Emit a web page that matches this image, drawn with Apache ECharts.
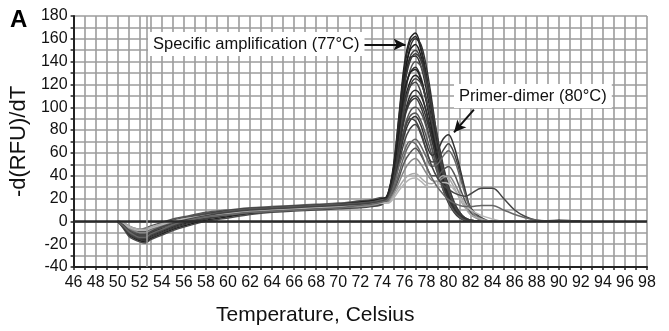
<!DOCTYPE html>
<html>
<head>
<meta charset="utf-8">
<script src="https://cdn.jsdelivr.net/npm/echarts@6/dist/echarts.min.js"></script>
<style>
  html, body { margin: 0; padding: 0; background: #fff; }
  #chart { width: 669px; height: 331px; }
</style>
</head>
<body>
<div id="chart"></div>
<script>
// melt curves, -d(RFU)/dT against temperature
const temps = [50, 50.5, 51, 51.5, 52, 52.5, 53, 54, 55, 56, 58, 60, 62, 64, 66, 68, 70, 72, 73, 74,
  74.5, 75, 75.5, 76, 76.5, 77, 77.5, 78, 78.5, 79, 79.5, 80, 80.5, 81, 81.5, 82,
  83, 84, 85, 86, 87, 88, 90, 92];

const xTicks = { min: 46, max: 98, step: 2 };
const yTicks = { min: -40, max: 180, step: 20 };

// specific product, tall peak at 77
const c01 = [0, -4, -10, -13, -15, -16, -13, -9, -5, -2, 3, 6, 8, 10, 11, 12, 13, 15, 16, 18,
  24, 48, 92, 138, 160, 165, 152, 128, 98, 66, 38, 20, 10, 4, 1, 0, 0, 0, 0, 0, 0, 0, 0, 0];
const c02 = [0, -2, -6, -8, -9, -9, -7, -3, 0, 3, 7, 9, 11, 12, 13, 14, 15, 17, 18, 20,
  22, 40, 80, 125, 152, 160, 155, 135, 105, 72, 45, 25, 13, 5, 2, 0, 0, 0, 0, 0, 0, 0, 0, 0];
const c03 = [0, -5, -12, -15, -17, -18, -15, -11, -7, -4, 1, 4, 7, 9, 10, 11, 12, 13, 14, 16,
  23, 44, 85, 128, 150, 155, 145, 122, 95, 65, 40, 22, 12, 5, 2, 1, 0, 0, 0, 0, 0, 0, 1, 0];
const c04 = [0, -3, -8, -11, -13, -13, -10, -6, -3, 0, 4, 7, 9, 10, 11, 12, 13, 15, 16, 18,
  22, 42, 80, 120, 144, 150, 142, 122, 96, 68, 44, 26, 14, 6, 3, 1, 0, 0, 0, 0, 0, 0, 0, 0];
const c05 = [0, -4, -11, -14, -16, -16, -12, -8, -4, -1, 3, 6, 8, 9, 10, 11, 12, 14, 15, 17,
  24, 45, 84, 124, 143, 145, 136, 115, 88, 60, 36, 19, 10, 4, 1, 0, 0, 0, 0, 0, 0, 0, 0, 0];
const c06 = [0, -1, -4, -6, -7, -6, -4, -1, 2, 4, 8, 10, 12, 13, 14, 15, 16, 18, 19, 21,
  20, 36, 70, 108, 132, 140, 136, 120, 98, 72, 48, 30, 17, 8, 3, 1, 0, 0, 0, 0, 0, 0, 0, 0];
const c07 = [0, -3, -9, -12, -14, -15, -12, -8, -4, -1, 3, 6, 8, 9, 10, 11, 12, 14, 15, 17,
  22, 40, 76, 112, 130, 135, 126, 106, 82, 57, 35, 20, 11, 5, 2, 0, 0, 0, 0, 0, 0, 0, 0, 0];
const c08 = [0, -2, -7, -10, -11, -11, -8, -4, -1, 2, 6, 8, 10, 11, 12, 13, 14, 16, 17, 19,
  21, 38, 70, 104, 122, 128, 122, 106, 84, 60, 40, 24, 13, 6, 2, 0, 0, 0, 0, 0, 0, 0, 0, 0];
const c09 = [0, -6, -13, -16, -18, -19, -16, -12, -8, -5, 0, 3, 6, 8, 9, 10, 11, 12, 13, 15,
  22, 40, 72, 102, 118, 122, 113, 95, 72, 50, 31, 18, 9, 4, 1, 0, 0, 0, 0, 0, 0, 0, 0, 0];
const c10 = [0, -3, -8, -10, -12, -12, -9, -5, -2, 1, 5, 8, 10, 11, 12, 13, 14, 16, 17, 19,
  20, 35, 62, 92, 110, 115, 110, 96, 76, 55, 36, 22, 12, 5, 2, 0, 0, 0, 0, 0, 0, 0, 0, 0];
const c11 = [0, -4, -10, -12, -14, -14, -11, -7, -3, 0, 4, 7, 9, 10, 11, 12, 13, 14, 15, 17,
  21, 36, 64, 90, 104, 108, 100, 84, 64, 45, 28, 16, 8, 3, 1, 0, 0, 0, 0, 0, 0, 0, 0, 0];
const c12 = [0, -2, -5, -7, -8, -8, -6, -2, 1, 3, 7, 9, 11, 12, 13, 14, 15, 16, 17, 19,
  20, 33, 58, 82, 96, 100, 95, 82, 64, 46, 30, 18, 10, 4, 2, 0, 0, 0, 0, 0, 0, 0, 0, 0];
const c22 = [0, -3, -9, -12, -14, -14, -11, -7, -3, 0, 4, 7, 9, 10, 11, 12, 13, 15, 16, 18,
  23, 46, 90, 134, 157, 162, 150, 126, 97, 66, 40, 22, 11, 5, 2, 0, 0, 0, 0, 0, 0, 0, 0, 0];
const c23 = [0, -5, -11, -14, -16, -17, -14, -10, -6, -3, 2, 5, 7, 9, 10, 11, 12, 14, 15, 17,
  21, 39, 76, 118, 140, 147, 141, 124, 100, 74, 50, 31, 17, 8, 3, 1, 0, 0, 0, 0, 0, 0, 0, 0];
const c24 = [0, -2, -7, -9, -11, -11, -8, -4, -1, 2, 6, 9, 11, 12, 13, 14, 15, 17, 18, 20,
  22, 42, 78, 114, 130, 133, 124, 104, 80, 56, 34, 19, 10, 4, 1, 0, 0, 0, 0, 0, 0, 0, 0, 0];
const c25 = [0, -4, -10, -13, -14, -15, -12, -8, -4, -1, 3, 6, 8, 9, 10, 11, 12, 14, 15, 17,
  20, 36, 66, 98, 118, 125, 121, 106, 86, 63, 42, 26, 14, 6, 2, 0, 0, 0, 0, 0, 0, 0, 0, 0];
const c26 = [0, -3, -8, -11, -12, -13, -10, -6, -2, 1, 5, 8, 10, 11, 12, 13, 14, 15, 16, 18,
  21, 36, 63, 92, 106, 110, 104, 90, 71, 51, 33, 20, 11, 5, 2, 0, 0, 0, 0, 0, 0, 0, 0, 0];
const c27 = [0, -2, -6, -9, -10, -10, -7, -3, 0, 3, 6, 9, 11, 12, 13, 14, 15, 16, 17, 19,
  20, 32, 55, 80, 92, 95, 88, 74, 58, 42, 28, 17, 9, 4, 1, 0, 0, 0, 0, 0, 0, 0, 0, 0];
// wells with a primer-dimer peak near 80
const c13 = [0, -3, -9, -12, -13, -14, -11, -7, -3, 0, 4, 7, 9, 10, 11, 12, 13, 15, 16, 18,
  20, 32, 54, 76, 88, 92, 84, 68, 58, 62, 72, 76, 66, 48, 28, 12, 2, 0, 0, 0, 0, 0, 0, 0];
const c14 = [0, -4, -10, -13, -15, -15, -12, -8, -4, -1, 3, 6, 8, 9, 10, 11, 12, 13, 14, 16,
  19, 30, 50, 70, 81, 85, 76, 62, 52, 54, 62, 68, 60, 44, 26, 12, 3, 0, 0, 0, 0, 0, 0, 0];
const c15 = [0, -2, -6, -9, -10, -10, -8, -4, -1, 2, 5, 8, 10, 11, 12, 13, 14, 15, 16, 18,
  18, 27, 42, 58, 68, 72, 66, 56, 48, 50, 57, 62, 55, 40, 24, 11, 2, 0, 0, 0, 0, 0, 0, 0];
const c16 = [0, -3, -7, -10, -12, -12, -9, -5, -2, 1, 5, 7, 9, 10, 11, 12, 13, 14, 15, 17,
  17, 25, 38, 52, 60, 64, 58, 48, 40, 40, 45, 48, 42, 30, 18, 8, 1, 0, 0, 0, 0, 0, 0, 0];
const c17 = [0, -2, -6, -8, -10, -10, -8, -5, -2, 1, 4, 6, 8, 9, 10, 11, 12, 13, 14, 16,
  17, 24, 34, 45, 52, 55, 50, 42, 36, 35, 38, 40, 34, 24, 14, 6, 1, 0, 0, 0, 0, 0, 0, 0];
const c18 = [0, -1, -4, -6, -7, -7, -5, -2, 0, 2, 5, 7, 9, 10, 11, 12, 13, 14, 15, 16,
  16, 22, 30, 37, 41, 42, 38, 34, 33, 36, 40, 38, 30, 20, 12, 6, 2, 0, 0, 0, 0, 0, 0, 0];
const c19 = [0, -2, -5, -7, -8, -8, -6, -3, 0, 2, 5, 7, 9, 10, 11, 12, 13, 14, 15, 16,
  16, 20, 27, 33, 37, 38, 35, 31, 30, 32, 34, 33, 28, 22, 15, 10, 5, 2, 0, 0, 0, 0, 0, 0];
// late shoulders around 83-85
const c20 = [0, -3, -8, -11, -12, -12, -9, -5, -2, 1, 5, 8, 10, 11, 12, 13, 14, 15, 16, 18,
  20, 35, 60, 80, 90, 88, 78, 62, 48, 38, 32, 28, 25, 23, 22, 24, 29, 29, 20, 10, 4, 1, 0, 0];
const c21 = [0, -4, -9, -12, -14, -14, -11, -7, -3, 0, 4, 6, 8, 9, 10, 11, 12, 14, 15, 17,
  19, 30, 48, 62, 70, 68, 60, 48, 38, 30, 24, 19, 16, 14, 13, 13, 14, 14, 10, 6, 3, 1, 0, 0];

const curves = [c01, c02, c03, c04, c05, c06, c07, c08, c09, c10, c11, c12,
  c22, c23, c24, c25, c26, c27,
  c13, c14, c15, c16, c17, c18, c19, c20, c21];
const shades = ['#222', '#333', '#1a1a1a', '#444', '#2a2a2a', '#555', '#333', '#222', '#4a4a4a', '#2d2d2d',
  '#3a3a3a', '#555', '#2a2a2a', '#3a3a3a', '#222', '#444', '#333', '#555',
  '#333', '#444', '#666', '#555', '#888', '#aaa', '#b5b5b5', '#444', '#666'];

const chart = echarts.init(document.getElementById('chart'), null, { renderer: 'canvas' });
const font = 'Liberation Sans, Arial, sans-serif';
const gridColor = '#9c9c9c';

const series = curves.map((vals, i) => ({
  type: 'line',
  data: temps.map((t, j) => [t, vals[j]]),
  showSymbol: false,
  smooth: 0.35,
  silent: true,
  lineStyle: { color: shades[i], width: 1.5 },
}));

// zero line, cursor line and the two arrows
series.push({
  type: 'line',
  data: [],
  z: 5,
  silent: true,
  markLine: {
    silent: true,
    animation: false,
    symbol: ['none', 'none'],
    label: { show: false },
    data: [
      { yAxis: 0, lineStyle: { color: '#2a2a2a', width: 2.5, type: 'solid' } },
      { xAxis: 52.6, lineStyle: { color: '#9a9a9a', width: 1.5, type: 'solid' } },
      [
        { coord: [72.3, 155], symbol: 'none', lineStyle: { color: '#111', width: 2, type: 'solid' } },
        { coord: [76.1, 155], symbol: 'arrow', symbolSize: [9, 12] },
      ],
      [
        { coord: [82.3, 98], symbol: 'none', lineStyle: { color: '#111', width: 2, type: 'solid' } },
        { coord: [80.5, 78], symbol: 'arrow', symbolSize: [9, 12] },
      ],
    ],
  },
});

const option = {
  animation: false,
  backgroundColor: '#fff',
  grid: { left: 72, right: 22, top: 16, bottom: 58, containLabel: false },
  xAxis: {
    type: 'value',
    min: xTicks.min,
    max: xTicks.max,
    interval: xTicks.step,
    name: 'Temperature, Celsius',
    nameLocation: 'middle',
    nameGap: 38,
    nameTextStyle: { fontSize: 21, color: '#111', fontFamily: font, padding: [0, 90, 0, 0] },
    axisLine: { onZero: false, lineStyle: { color: '#222', width: 2 } },
    axisTick: { show: true, length: 3, lineStyle: { color: '#222', width: 1.5 } },
    minorTick: { show: true, splitNumber: 2, length: 3, lineStyle: { color: '#222', width: 1.5 } },
    axisLabel: { fontSize: 16, color: '#111', fontFamily: font, margin: 8, interval: 0, hideOverlap: false },
    splitLine: { show: true, lineStyle: { color: gridColor, width: 1.6 } },
    minorSplitLine: { show: true, lineStyle: { color: gridColor, width: 1.6 } },
  },
  yAxis: {
    type: 'value',
    min: yTicks.min,
    max: yTicks.max,
    interval: yTicks.step,
    name: '-d(RFU)/dT',
    nameLocation: 'middle',
    nameGap: 36,
    nameTextStyle: { fontSize: 22, color: '#111', fontFamily: font },
    axisLine: { show: true, lineStyle: { color: '#222', width: 2 } },
    axisTick: { show: true, length: 3, lineStyle: { color: '#222', width: 1.5 } },
    minorTick: { show: true, splitNumber: 2, length: 3, lineStyle: { color: '#222', width: 1.5 } },
    axisLabel: { fontSize: 16, color: '#111', fontFamily: font, margin: 6 },
    splitLine: { show: true, lineStyle: { color: gridColor, width: 1.6 } },
    minorSplitLine: { show: true, lineStyle: { color: gridColor, width: 1.6 } },
  },
  graphic: [
    {
      type: 'text', left: 10, top: 8, z: 10,
      style: { text: 'A', font: 'bold 24px ' + font, fill: '#000' },
    },
    {
      type: 'text', left: 148, top: 32, z: 10,
      style: {
        text: 'Specific amplification (77°C)', font: '16.5px ' + font, fill: '#111',
        backgroundColor: '#fff', padding: [4, 5, 3, 5],
      },
    },
    {
      type: 'text', left: 454, top: 84, z: 10,
      style: {
        text: 'Primer-dimer (80°C)', font: '16.5px ' + font, fill: '#111',
        backgroundColor: '#fff', padding: [4, 5, 3, 5],
      },
    },
  ],
  series,
};

chart.setOption(option);
window.addEventListener('resize', () => chart.resize());
</script>
</body>
</html>
